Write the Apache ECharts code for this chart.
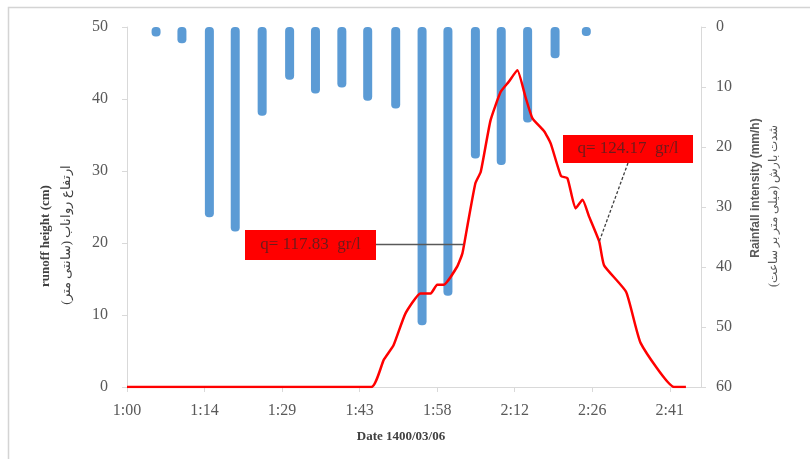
<!DOCTYPE html>
<html>
<head>
<meta charset="utf-8">
<script src="https://cdn.jsdelivr.net/npm/echarts@6/dist/echarts.min.js"></script>
<style>
  html, body { margin: 0; padding: 0; background: #ffffff; }
  #chart { width: 810px; height: 459px; }
</style>
</head>
<body>
<div id="chart"></div>
<script>
// Time is stored as minutes after 1:00 on 1400/03/06.
const rainTimeMin = [5.4, 10.2, 15.3, 20.1, 25.1, 30.2, 35.0, 39.9, 44.7, 49.9, 54.8, 59.6, 64.7, 69.5, 74.4, 79.5, 85.3];
const rainIntensity = [1.6, 2.7, 31.7, 34.1, 14.8, 8.8, 11.1, 10.1, 12.3, 13.6, 49.7, 44.8, 21.9, 23.0, 15.9, 5.2, 1.5];

const runoffTimeMin = [0, 45.4, 47.7, 49.5, 51.7, 54.5, 56.4, 57.6, 58.8, 61.3, 62.3, 63.2, 64.7, 65.7, 67.5, 69.4, 70.9, 72.5, 74.0, 75.3, 77.5, 78.7, 80.6, 81.8, 83.3, 84.6, 85.8, 87.7, 88.6, 92.7, 95.4, 101.6, 103.8];
const runoffHeight = [0, 0, 3.8, 5.8, 10.2, 13.0, 13.0, 14.2, 14.2, 16.7, 18.6, 22.3, 28.3, 29.9, 37.0, 41.0, 42.4, 44.0, 40.3, 37.3, 35.5, 33.8, 29.3, 29.0, 24.8, 26.0, 23.7, 20.2, 16.9, 13.2, 6.1, 0, 0];

// Sediment concentration callouts and the runoff sample each one points at
const calloutTexts = ['q= 117.83  gr/l', 'q= 124.17  gr/l'];
const calloutPoints = [[62.5, 19.8], [87.7, 20.2]];

const leftTicks = [0, 10, 20, 30, 40, 50];
const rightTicks = [0, 10, 20, 30, 40, 50, 60];

function clock(m) {
  const total = 60 + m;
  let h = Math.floor(total / 60);
  let mm = Math.round(total - h * 60);
  if (mm === 60) { h += 1; mm = 0; }
  return h + ':' + (mm < 10 ? '0' : '') + mm;
}

const labelColor = '#595959';
const lineGray = '#d9d9d9';
const serif = '"Liberation Serif", "DejaVu Serif", serif';

const chart = echarts.init(document.getElementById('chart'));

chart.setOption({
  animation: false,
  backgroundColor: '#ffffff',
  grid: { left: 127, right: 109, top: 27, bottom: 72, containLabel: false },
  xAxis: {
    type: 'value',
    min: 0,
    max: 106.6,
    interval: 14.4,
    splitLine: { show: false },
    axisLine: { show: true, lineStyle: { color: lineGray, width: 1 } },
    axisTick: { show: true, length: 5, lineStyle: { color: lineGray } },
    axisLabel: {
      showMaxLabel: false,
      margin: 16,
      color: labelColor,
      fontFamily: serif,
      fontSize: 16,
      formatter: v => clock(v)
    }
  },
  yAxis: [
    {
      type: 'value',
      min: leftTicks[0],
      max: leftTicks[leftTicks.length - 1],
      interval: 10,
      splitLine: { show: false },
      axisLine: { show: true, lineStyle: { color: lineGray } },
      axisTick: { show: true, length: 5, lineStyle: { color: lineGray } },
      axisLabel: { margin: 19, color: labelColor, fontFamily: serif, fontSize: 16 }
    },
    {
      type: 'value',
      inverse: true,
      min: rightTicks[0],
      max: rightTicks[rightTicks.length - 1],
      interval: 10,
      position: 'right',
      splitLine: { show: false },
      axisLine: { show: true, lineStyle: { color: lineGray } },
      axisTick: { show: true, length: 5, lineStyle: { color: lineGray } },
      axisLabel: { margin: 15, color: labelColor, fontFamily: serif, fontSize: 16 }
    }
  ],
  series: [
    {
      name: 'Rainfall intensity',
      type: 'bar',
      yAxisIndex: 1,
      barWidth: 9,
      itemStyle: { color: '#5b9bd5', borderRadius: 4 },
      data: rainTimeMin.map((t, i) => [t, rainIntensity[i]]),
      z: 2
    },
    {
      name: 'runoff height',
      type: 'line',
      yAxisIndex: 0,
      showSymbol: false,
      smooth: 0.15,
      lineStyle: { color: '#ff0000', width: 2.5 },
      data: runoffTimeMin.map((t, i) => [t, runoffHeight[i]]),
      z: 3
    }
  ]
});

// Callout boxes and leader lines, anchored to the runoff curve
const p1 = chart.convertToPixel({ xAxisIndex: 0, yAxisIndex: 0 }, calloutPoints[0]);
const p2 = chart.convertToPixel({ xAxisIndex: 0, yAxisIndex: 0 }, calloutPoints[1]);

const box1 = { x: 245, y: 230, w: 131, h: 30 };
const box2 = { x: 563, y: 135, w: 130, h: 28 };

chart.setOption({
  graphic: [
    // outer frame
    { type: 'rect', silent: true, shape: { x: 8.5, y: 7.5, width: 830, height: 480 },
      style: { fill: null, stroke: '#d4d4d4', lineWidth: 1.5 } },
    // leader lines
    { type: 'line', z: 10, shape: { x1: box1.x + box1.w, y1: p1[1], x2: p1[0], y2: p1[1] },
      style: { stroke: '#595959', lineWidth: 1.5 } },
    { type: 'line', z: 10, shape: { x1: 628, y1: box2.y + box2.h, x2: p2[0], y2: p2[1] },
      style: { stroke: '#404040', lineWidth: 1.3, lineDash: [3, 2] } },
    // callout boxes
    { type: 'rect', z: 11, shape: { x: box1.x, y: box1.y, width: box1.w, height: box1.h },
      style: { fill: '#ff0000' } },
    { type: 'text', z: 12, x: box1.x + box1.w / 2, y: box1.y + box1.h / 2,
      style: { text: calloutTexts[0], fill: '#6e1b1b', font: '17px ' + serif, align: 'center', verticalAlign: 'middle' } },
    { type: 'rect', z: 11, shape: { x: box2.x, y: box2.y, width: box2.w, height: box2.h },
      style: { fill: '#ff0000' } },
    { type: 'text', z: 12, x: box2.x + box2.w / 2, y: box2.y + box2.h / 2,
      style: { text: calloutTexts[1], fill: '#6e1b1b', font: '17px ' + serif, align: 'center', verticalAlign: 'middle' } },
    // axis titles
    { type: 'text', x: 46, y: 236, rotation: Math.PI / 2,
      style: { text: 'runoff height (cm)', fill: '#404040', font: 'bold 13px ' + serif, align: 'center', verticalAlign: 'middle' } },
    { type: 'text', x: 67, y: 235, rotation: Math.PI / 2,
      style: { text: '(ارتفاع رواناب (سانتی متر', fill: '#404040', font: '13px ' + serif, align: 'center', verticalAlign: 'middle' } },
    { type: 'text', x: 756, y: 188, rotation: Math.PI / 2,
      style: { text: 'Rainfall intensity (mm/h)', fill: '#595959', font: 'bold 12px "Liberation Sans Narrow", "Liberation Sans", sans-serif', align: 'center', verticalAlign: 'middle' } },
    { type: 'text', x: 774, y: 206, rotation: Math.PI / 2,
      style: { text: '(شدت بارش (میلی متر بر ساعت', fill: '#595959', font: '12px ' + serif, align: 'center', verticalAlign: 'middle' } },
    { type: 'text', x: 401, y: 437,
      style: { text: 'Date 1400/03/06', fill: '#404040', font: 'bold 13px ' + serif, align: 'center', verticalAlign: 'middle' } }
  ]
});
</script>
</body>
</html>
